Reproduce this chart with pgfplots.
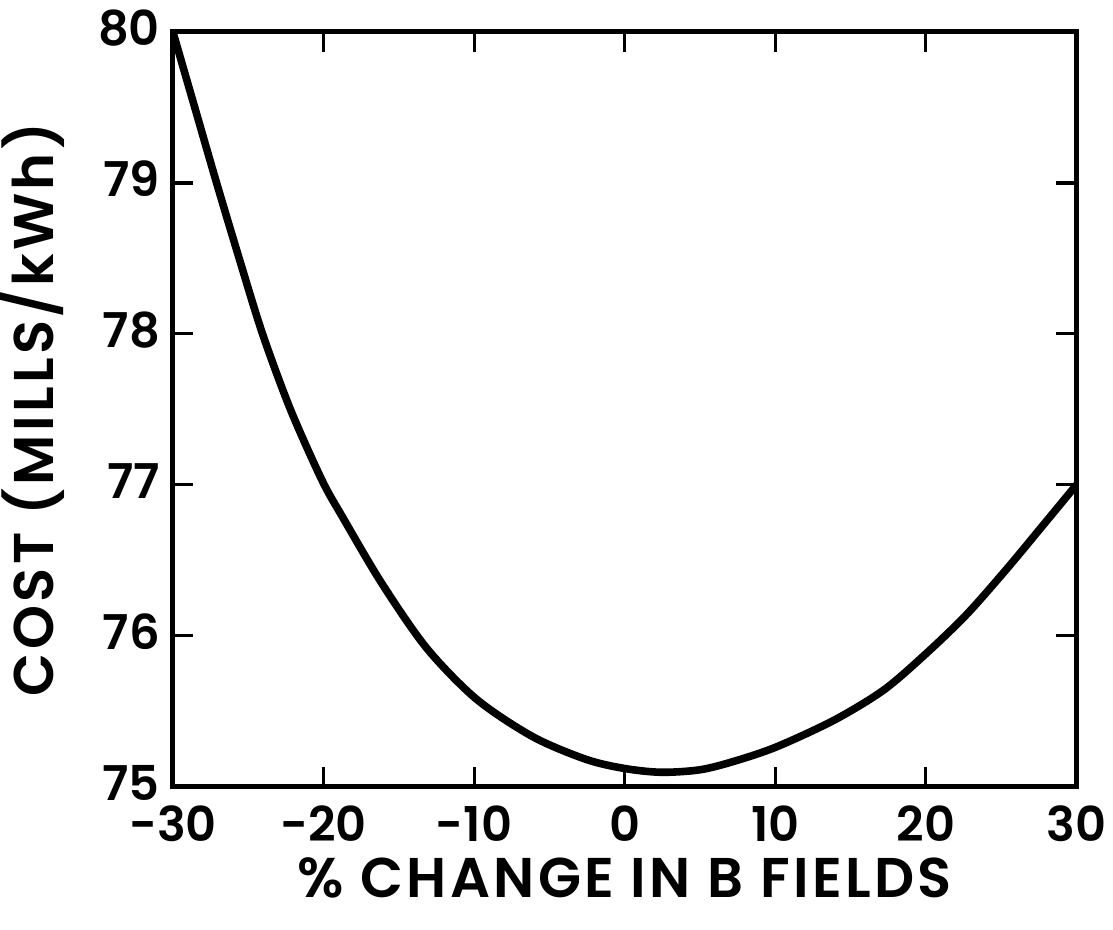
\documentclass[border=0pt]{standalone}
\usepackage{fontspec}
\setmainfont{Poppins}[BoldFont={Poppins SemiBold}]
\usepackage{pgfplots}
\pgfplotsset{compat=1.18}
\usetikzlibrary{calc}

\begin{document}
\begin{tikzpicture}
\begin{axis}[
  scale only axis,
  width=452pt, height=377.5pt,
  xmin=-30, xmax=30, ymin=75, ymax=80,
  xtick={-30,-20,-10,0,10,20,30},
  xticklabels={-30,-20,-10,0,10,20,30},
  ytick={75,76,77,78,79,80},
  yticklabels={75,76,77,78,79,80},
  tick align=inside,
  major tick length=10pt,
  axis line style={line width=2.5pt},
  every tick/.style={line width=1.6pt, black},
  tick label style={font=\fontsize{24}{24}\selectfont\bfseries},
  xticklabel style={yshift=-6pt},
  yticklabel style={xshift=-3pt, yshift=2pt},
  xlabel={\addfontfeature{LetterSpace=6}\% CHANGE IN B FIELDS},
  ylabel={\addfontfeature{LetterSpace=6}COST (MILLS/kWh)},
  label style={font=\fontsize{28}{28}\selectfont\bfseries, inner sep=0pt},
  xlabel style={at={(axis description cs:0.5,-0.094)}, anchor=north},
  ylabel style={at={(axis description cs:-0.119,0.5)}, anchor=south},
]
\addplot[black, line width=3.8pt, smooth] coordinates {
  (-30,80) (-28.55,79.5) (-27.1,79.0) (-25.6,78.5) (-24.05,78.0)
  (-22.2,77.5) (-20.1,77.03) (-18.7,76.78) (-16.15,76.35)
  (-13.17,75.92) (-9.85,75.58) (-6.09,75.33) (-2.55,75.18) (0,75.12)
  (2.4,75.095) (4.9,75.11) (7.0,75.16) (10,75.26) (13.9,75.44)
  (17.2,75.64) (20,75.88) (22.7,76.14) (25.35,76.44) (27.6,76.71)
  (30,77.0)
};
\end{axis}
\path ($(current axis.south west)+(-86.5pt,-71.5pt)$) rectangle ($(current axis.north east)+(18pt,16pt)$);
\end{tikzpicture}
\end{document}
